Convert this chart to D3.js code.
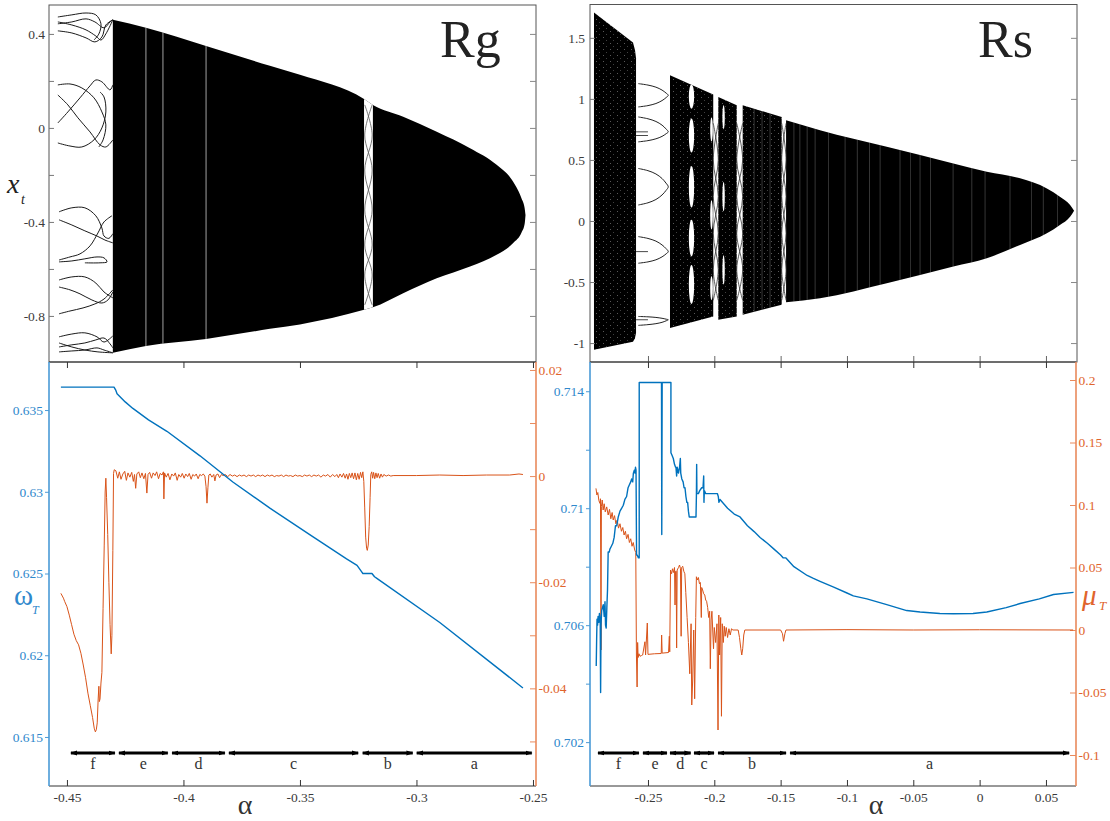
<!DOCTYPE html>
<html lang="en">
<head>
<meta charset="UTF-8">
<title>Rg / Rs bifurcation, frequency and Lyapunov</title>
<script src="https://d3js.org/d3.v7.min.js"></script>
<style>
  body { margin: 0; background: #fff; }
  svg { display: block; }
  svg text { font-family: "Liberation Serif", "Times New Roman", serif; }
</style>
</head>
<body>
<svg id="chart" width="1110" height="821"></svg>
<script>
// ---------- data ----------
// Rg bifurcation: chaotic band envelope (alpha, x_t), upper and lower edge share alpha
const rgTop = [[-0.4303,0.460],[-0.4161,0.426],[-0.3903,0.349],[-0.3629,0.264],[-0.3500,0.226],[-0.3225,0.123],
  [-0.3187,0.098],[-0.3057,0.048],[-0.2913,-0.016],[-0.2770,-0.086],[-0.2656,-0.157],[-0.2585,-0.229],
  [-0.2549,-0.300],[-0.2536,-0.340],[-0.2532,-0.370]];
const rgBottom = [[-0.4303,-0.957],[-0.4161,-0.928],[-0.3903,-0.898],[-0.3629,-0.855],[-0.3500,-0.836],[-0.3225,-0.774],
  [-0.3187,-0.763],[-0.3057,-0.703],[-0.2913,-0.640],[-0.2770,-0.590],[-0.2656,-0.540],[-0.2585,-0.490],
  [-0.2549,-0.445],[-0.2536,-0.410],[-0.2532,-0.370]];
const rgWindows = [[-0.3225,-0.3187]];
const rgWindowLevels = [0.098,-0.030,-0.179,-0.349,-0.498,-0.626,-0.753];
const rgFineLines = [-0.4161,-0.4088,-0.3903];
// periodic branches left of the band
const rgStrands = [
  [[-0.4539,0.472],[-0.4479,0.481],[-0.4418,0.489],[-0.4376,0.481],[-0.4354,0.443],[-0.4363,0.400],[-0.4384,0.374]],
  [[-0.4539,0.451],[-0.4479,0.438],[-0.4418,0.417],[-0.4376,0.391],[-0.4354,0.374],[-0.4333,0.400],[-0.4303,0.460]],
  [[-0.4539,0.443],[-0.4479,0.451],[-0.4418,0.464],[-0.4380,0.451],[-0.4341,0.426],[-0.4315,0.451],[-0.4303,0.460]],
  [[-0.4539,0.413],[-0.4479,0.404],[-0.4418,0.383],[-0.4380,0.366],[-0.4350,0.387],[-0.4333,0.438],[-0.4303,0.460]],
  [[-0.4539,0.183],[-0.4487,0.187],[-0.4436,0.170],[-0.4384,0.128],[-0.4350,0.068],[-0.4333,0.013],[-0.4345,-0.051],[-0.4363,-0.081]],
  [[-0.4539,-0.064],[-0.4487,-0.077],[-0.4436,-0.081],[-0.4384,-0.051],[-0.4350,0.000],[-0.4333,0.068],[-0.4341,0.132],[-0.4358,0.153]],
  [[-0.4539,0.140],[-0.4496,0.098],[-0.4453,0.043],[-0.4401,-0.017],[-0.4358,-0.072],[-0.4333,-0.081],[-0.4303,-0.051]],
  [[-0.4539,0.021],[-0.4496,0.068],[-0.4444,0.128],[-0.4401,0.179],[-0.4376,0.204],[-0.4350,0.196],[-0.4315,0.162],[-0.4303,0.183]],
  [[-0.4534,-0.357],[-0.4479,-0.340],[-0.4423,-0.340],[-0.4376,-0.374],[-0.4350,-0.426],[-0.4341,-0.460],[-0.4320,-0.470],[-0.4303,-0.450]],
  [[-0.4534,-0.391],[-0.4479,-0.413],[-0.4423,-0.438],[-0.4371,-0.460],[-0.4337,-0.477],[-0.4303,-0.489]],
  [[-0.4534,-0.562],[-0.4487,-0.549],[-0.4444,-0.536],[-0.4401,-0.502],[-0.4367,-0.447],[-0.4341,-0.400],[-0.4307,-0.374]],
  [[-0.4534,-0.570],[-0.4479,-0.566],[-0.4423,-0.557],[-0.4371,-0.549],[-0.4341,-0.553],[-0.4328,-0.570],[-0.4358,-0.574],[-0.4423,-0.574]],
  [[-0.4534,-0.647],[-0.4479,-0.634],[-0.4423,-0.634],[-0.4376,-0.660],[-0.4341,-0.698],[-0.4303,-0.723]],
  [[-0.4534,-0.677],[-0.4487,-0.689],[-0.4444,-0.706],[-0.4393,-0.732],[-0.4350,-0.745],[-0.4324,-0.732],[-0.4303,-0.698]],
  [[-0.4534,-0.791],[-0.4487,-0.779],[-0.4431,-0.766],[-0.4380,-0.749],[-0.4341,-0.728],[-0.4303,-0.689]],
  [[-0.4534,-0.889],[-0.4479,-0.877],[-0.4423,-0.872],[-0.4371,-0.889],[-0.4341,-0.911],[-0.4303,-0.885]],
  [[-0.4534,-0.932],[-0.4479,-0.923],[-0.4423,-0.915],[-0.4376,-0.902],[-0.4341,-0.894],[-0.4315,-0.919],[-0.4303,-0.936]],
  [[-0.4534,-0.953],[-0.4479,-0.949],[-0.4423,-0.945],[-0.4371,-0.936],[-0.4341,-0.945],[-0.4303,-0.957]],
  [[-0.4534,-0.915],[-0.4479,-0.932],[-0.4423,-0.945],[-0.4367,-0.953],[-0.4303,-0.957]]
];

// Rs bifurcation: chaotic bands (top edge, bottom edge share alpha)
const rsBandTops = [
  [[-0.2907,1.707],[-0.2613,1.462],[-0.2598,1.400],[-0.2590,1.332]],
  [[-0.2334,1.193],[-0.2008,1.035]],
  [[-0.1970,1.016],[-0.1831,0.948]],
  [[-0.1786,0.948],[-0.1492,0.852]],
  [[-0.1459,0.825],[-0.1203,0.743],[-0.0700,0.607],[-0.0198,0.471],[0.0054,0.403],[0.0305,0.349],[0.0507,0.267],[0.0605,0.199],[0.0682,0.131],[0.0712,0.084]]
];
const rsBandBottoms = [
  [[-0.2907,-1.054],[-0.2613,-0.989],[-0.2598,-0.960],[-0.2590,-0.915]],
  [[-0.2334,-0.877],[-0.2008,-0.782]],
  [[-0.1970,-0.809],[-0.1831,-0.782]],
  [[-0.1786,-0.768],[-0.1492,-0.686]],
  [[-0.1459,-0.665],[-0.1203,-0.632],[-0.0700,-0.509],[-0.0198,-0.373],[0.0054,-0.305],[0.0305,-0.196],[0.0507,-0.101],[0.0605,-0.033],[0.0682,0.035],[0.0712,0.084]]
];
const rsGaps = [[-0.2008,-0.1970],[-0.1831,-0.1786],[-0.1492,-0.1459]];
const rsGapLevels = [0.80,0.50,0.20,-0.10,-0.40,-0.65];
// white openings inside bands: [alpha centre, x centre, alpha half-width, x half-height]
const rsHoles = [[-0.2172,1.02,0.0020,0.10],[-0.2172,0.70,0.0020,0.14],[-0.2172,0.28,0.0020,0.17],
  [-0.2172,-0.14,0.0020,0.15],[-0.2172,-0.52,0.0020,0.16],
  [-0.2021,0.75,0.0010,0.10],[-0.2021,0.05,0.0010,0.12],[-0.2021,-0.55,0.0010,0.10],
  [-0.1930,0.85,0.0009,0.10],[-0.1930,0.20,0.0009,0.12],[-0.1930,-0.40,0.0009,0.12]];
const rsFineLines = [-0.1700,-0.1640,-0.1580,-0.1400,-0.1355,-0.1300,-0.1240,-0.1140,-0.1014,-0.0922,-0.0830,
  -0.0750,-0.0600,-0.0520,-0.0449,-0.0370,-0.0200,-0.0059,0.0041,0.0229,0.0392,0.0480,0.0588];
// periodic window between band 1 and band 2
const rsBumps = [
  [[-0.2573,1.125],[-0.2500,1.113],[-0.2440,1.096],[-0.2394,1.072],[-0.2364,1.048],[-0.2347,1.029],[-0.2364,1.010],[-0.2394,0.986],[-0.2440,0.962],[-0.2500,0.945],[-0.2573,0.934]],
  [[-0.2573,0.852],[-0.2500,0.837],[-0.2440,0.815],[-0.2394,0.785],[-0.2364,0.754],[-0.2347,0.730],[-0.2364,0.714],[-0.2394,0.693],[-0.2440,0.673],[-0.2500,0.658],[-0.2573,0.648]],
  [[-0.2573,0.430],[-0.2500,0.412],[-0.2440,0.385],[-0.2394,0.348],[-0.2364,0.310],[-0.2347,0.280],[-0.2364,0.250],[-0.2394,0.213],[-0.2440,0.176],[-0.2500,0.149],[-0.2573,0.131]],
  [[-0.2573,-0.128],[-0.2500,-0.143],[-0.2440,-0.165],[-0.2394,-0.196],[-0.2364,-0.226],[-0.2347,-0.251],[-0.2364,-0.270],[-0.2394,-0.294],[-0.2440,-0.318],[-0.2500,-0.335],[-0.2573,-0.346]],
  [[-0.2573,-0.782],[-0.2500,-0.785],[-0.2440,-0.790],[-0.2394,-0.797],[-0.2364,-0.804],[-0.2347,-0.809],[-0.2364,-0.818],[-0.2394,-0.830],[-0.2440,-0.841],[-0.2500,-0.849],[-0.2573,-0.855]]
];
const rsBumpFlats = [0.730,0.700,-0.251,-0.809];

// Rg: omega_T (left axis) and mu_T (right axis)
const omegaRg = [[-0.4526,0.6364],[-0.4298,0.6364],[-0.4290,0.6362],[-0.4285,0.6360],[-0.4250,0.6355],[-0.4217,0.6351],
  [-0.4150,0.6344],[-0.4071,0.6337],[-0.3929,0.6322],[-0.3788,0.6306],[-0.3629,0.6290],[-0.3450,0.6273],[-0.3300,0.6259],
  [-0.3255,0.6255],[-0.3235,0.6251],[-0.3230,0.6250],[-0.3191,0.6250],[-0.3180,0.6248],[-0.3170,0.6247],[-0.2900,0.6220],[-0.2543,0.6180]];
const muRg = [[-0.4526,-0.0221],[-0.4520,-0.0226],[-0.4515,-0.0230],[-0.4510,-0.0236],[-0.4500,-0.0246],[-0.4490,-0.0262],
  [-0.4480,-0.0280],[-0.4470,-0.0298],[-0.4460,-0.0310],[-0.4450,-0.0318],[-0.4440,-0.0334],[-0.4430,-0.0356],[-0.4420,-0.0380],
  [-0.4410,-0.0409],[-0.4400,-0.0432],[-0.4390,-0.0455],[-0.4383,-0.0475],[-0.4378,-0.0482],[-0.4374,-0.0478],[-0.4370,-0.0465],
  [-0.4366,-0.0420],[-0.4363,-0.0396],[-0.4361,-0.0425],[-0.4358,-0.0420],[-0.4354,-0.0390],[-0.4350,-0.0370],[-0.4345,-0.0250],
  [-0.4340,-0.0130],[-0.4336,-0.0030],[-0.4333,-0.0004],[-0.4330,-0.0040],[-0.4325,-0.0110],[-0.4320,-0.0200],[-0.4315,-0.0280],
  [-0.4310,-0.0335],[-0.4307,-0.0300],[-0.4303,-0.0140],[-0.4300,0.0005],[-0.4297,0.0012],
  [-0.4290,0.0010],[-0.4282,-0.0004],[-0.4275,0.0008],[-0.4268,-0.0006],[-0.4260,0.0004],[-0.4252,0.0009],[-0.4245,-0.0008],
  [-0.4238,0.0006],[-0.4230,-0.0002],[-0.4222,0.0007],[-0.4215,-0.0010],[-0.4210,0.0003],[-0.4205,-0.0023],[-0.4200,0.0004],
  [-0.4192,0.0008],[-0.4185,-0.0003],[-0.4178,0.0006],[-0.4170,-0.0005],[-0.4163,0.0005],[-0.4157,-0.0032],[-0.4152,0.0003],
  [-0.4145,0.0007],[-0.4137,-0.0004],[-0.4130,0.0006],[-0.4122,0.0001],[-0.4115,0.0008],[-0.4107,-0.0005],[-0.4100,0.0005],
  [-0.4092,0.0002],[-0.4086,0.0008],[-0.4084,-0.0043],[-0.4081,0.0006],[-0.4074,-0.0002],[-0.4066,0.0005],[-0.4058,-0.0007],
  [-0.4050,0.0004],[-0.4042,0.0000],[-0.4035,0.0006],[-0.4027,-0.0008],[-0.4020,0.0003],[-0.4012,-0.0002],[-0.4005,0.0005],
  [-0.3997,-0.0004],[-0.3990,0.0004],[-0.3982,-0.0001],[-0.3975,0.0005],[-0.3967,-0.0006],[-0.3960,0.0003],[-0.3952,0.0000],
  [-0.3945,0.0004],[-0.3937,-0.0005],[-0.3930,0.0003],[-0.3922,0.0001],[-0.3915,0.0004],[-0.3908,0.0000],[-0.3903,-0.0020],
  [-0.3899,-0.0051],[-0.3895,-0.0022],[-0.3891,0.0002],[-0.3885,0.0004],[-0.3878,-0.0002],[-0.3870,0.0003],[-0.3865,-0.0009],
  [-0.3860,0.0002],[-0.3852,0.0004],[-0.3845,-0.0003],[-0.3837,0.0003],[-0.3830,0.0001],[-0.3820,0.0003],[-0.3810,-0.0001],
  [-0.3800,0.0003],[-0.3790,0.0000],[-0.3780,0.0002],[-0.3770,-0.0001],[-0.3760,0.0002],[-0.3750,0.0000],[-0.3740,0.0002],
  [-0.3730,-0.0001],[-0.3720,0.0002],[-0.3710,0.0000],[-0.3700,0.0002],[-0.3690,-0.0001],[-0.3680,0.0002],[-0.3670,0.0000],
  [-0.3660,0.0002],[-0.3650,-0.0001],[-0.3640,0.0002],[-0.3630,0.0000],[-0.3620,0.0002],[-0.3610,-0.0001],[-0.3600,0.0001],
  [-0.3590,0.0000],[-0.3580,0.0002],[-0.3570,-0.0001],[-0.3560,0.0002],[-0.3550,0.0000],[-0.3540,0.0001],[-0.3530,-0.0001],
  [-0.3520,0.0002],[-0.3510,0.0000],[-0.3500,0.0001],[-0.3490,-0.0001],[-0.3480,0.0002],[-0.3470,0.0000],[-0.3460,0.0002],
  [-0.3450,-0.0001],[-0.3440,0.0002],[-0.3430,0.0000],[-0.3420,0.0002],[-0.3410,-0.0002],[-0.3400,0.0002],[-0.3390,0.0000],
  [-0.3380,0.0003],[-0.3370,-0.0002],[-0.3360,0.0003],[-0.3350,-0.0001],[-0.3342,0.0003],[-0.3335,-0.0003],[-0.3328,0.0004],
  [-0.3320,-0.0002],[-0.3313,0.0005],[-0.3306,-0.0004],[-0.3300,0.0004],[-0.3294,-0.0006],[-0.3288,0.0005],[-0.3282,-0.0003],
  [-0.3276,0.0006],[-0.3270,-0.0005],[-0.3264,0.0006],[-0.3258,-0.0007],[-0.3252,0.0005],[-0.3246,-0.0006],[-0.3240,0.0007],
  [-0.3235,-0.0003],[-0.3230,0.0008],[-0.3226,-0.0010],[-0.3222,-0.0060],[-0.3218,-0.0115],[-0.3214,-0.0136],[-0.3211,-0.0140],
  [-0.3207,-0.0130],[-0.3203,-0.0095],[-0.3199,-0.0040],[-0.3196,0.0003],[-0.3192,0.0008],[-0.3188,-0.0004],[-0.3184,0.0007],
  [-0.3179,-0.0005],[-0.3174,0.0006],[-0.3169,-0.0003],[-0.3164,0.0005],[-0.3158,-0.0004],[-0.3152,0.0004],[-0.3146,-0.0002],
  [-0.3140,0.0003],[-0.3130,0.0000],[-0.3120,0.0002],[-0.3110,0.0000],[-0.3100,0.0001],[-0.3000,0.0001],[-0.2900,0.0002],
  [-0.2800,0.0001],[-0.2700,0.0002],[-0.2600,0.0002],[-0.2560,0.0004],[-0.2543,0.0003]];

// Rs: omega_T and mu_T
const omegaRs = [[-0.2890,0.7046],[-0.2887,0.7055],[-0.2884,0.7062],[-0.2880,0.7060],[-0.2876,0.7063],[-0.2870,0.7061],
  [-0.2866,0.7064],[-0.2860,0.7062],[-0.2857,0.7037],[-0.2854,0.7060],[-0.2849,0.7065],[-0.2843,0.7066],[-0.2837,0.7067],
  [-0.2830,0.7063],[-0.2824,0.7068],[-0.2820,0.7060],[-0.2815,0.7059],[-0.2810,0.7066],[-0.2805,0.7072],[-0.2800,0.7085],
  [-0.2792,0.7085],[-0.2787,0.7086],[-0.2776,0.7087],[-0.2765,0.7088],[-0.2755,0.7090],[-0.2745,0.7094],[-0.2736,0.7094],
  [-0.2724,0.7097],[-0.2711,0.7099],[-0.2698,0.7100],[-0.2686,0.7101],[-0.2674,0.7103],[-0.2661,0.7104],[-0.2650,0.7107],
  [-0.2640,0.7108],[-0.2630,0.7109],[-0.2623,0.7110],[-0.2615,0.7109],[-0.2610,0.7112],[-0.2603,0.7113],[-0.2598,0.7112],
  [-0.2594,0.7114],[-0.2590,0.7113],[-0.2586,0.7084],[-0.2581,0.7084],[-0.2572,0.7083],[-0.2566,0.7083],[-0.2566,0.7143],
  [-0.2398,0.7143],[-0.2396,0.7091],[-0.2393,0.7143],[-0.2327,0.7143],[-0.2327,0.7119],[-0.2318,0.7118],[-0.2309,0.7117],
  [-0.2300,0.7115],[-0.2292,0.7114],[-0.2289,0.7114],[-0.2284,0.7111],[-0.2280,0.7114],[-0.2270,0.7112],[-0.2262,0.7114],
  [-0.2256,0.7117],[-0.2253,0.7112],[-0.2245,0.7110],[-0.2235,0.7109],[-0.2228,0.7107],[-0.2221,0.7107],[-0.2214,0.7104],
  [-0.2207,0.7102],[-0.2201,0.7102],[-0.2195,0.7099],[-0.2189,0.7097],[-0.2138,0.7097],[-0.2135,0.7104],[-0.2133,0.7115],
  [-0.2131,0.7105],[-0.2120,0.7105],[-0.2110,0.7106],[-0.2095,0.7107],[-0.2085,0.7107],[-0.2080,0.7111],[-0.2078,0.7102],
  [-0.2075,0.7106],[-0.2065,0.7105],[-0.2057,0.7105],[-0.1977,0.7105],[-0.1970,0.7104],[-0.1965,0.7102],[-0.1957,0.7103],
  [-0.1900,0.7100],[-0.1850,0.7098],[-0.1806,0.7097],[-0.1750,0.7094],[-0.1700,0.7092],[-0.1655,0.7090],[-0.1600,0.7088],
  [-0.1550,0.7086],[-0.1500,0.7084],[-0.1480,0.7083],[-0.1460,0.7083],[-0.1400,0.7080],[-0.1300,0.7077],[-0.1253,0.7076],
  [-0.1203,0.7075],[-0.1100,0.7073],[-0.1000,0.7071],[-0.0952,0.7070],[-0.0850,0.7069],[-0.0700,0.7067],[-0.0550,0.7065],
  [-0.0449,0.70645],[-0.0300,0.7064],[-0.0198,0.70639],[-0.0050,0.7064],[0.0054,0.70645],[0.0200,0.7066],[0.0305,0.70674],
  [0.0450,0.7069],[0.0557,0.70705],[0.0708,0.70712]];
const muRs = [[-0.2892,0.1133],[-0.2885,0.1080],[-0.2878,0.1100],[-0.2870,0.1035],[-0.2862,0.1013],[-0.2858,0.1050],
  [-0.2854,-0.0160],[-0.2851,0.0990],[-0.2845,0.1040],[-0.2838,0.0960],[-0.2830,0.1010],[-0.2822,0.0945],[-0.2811,0.0985],
  [-0.2800,0.0920],[-0.2790,0.0965],[-0.2780,0.0890],[-0.2770,0.0940],[-0.2762,0.0880],[-0.2752,0.0915],[-0.2742,0.0850],
  [-0.2732,0.0880],[-0.2722,0.0815],[-0.2711,0.0850],[-0.2700,0.0790],[-0.2690,0.0820],[-0.2680,0.0760],[-0.2670,0.0790],
  [-0.2661,0.0730],[-0.2650,0.0765],[-0.2640,0.0700],[-0.2630,0.0730],[-0.2620,0.0670],[-0.2611,0.0700],[-0.2600,0.0640],
  [-0.2592,0.0620],[-0.2587,-0.0200],[-0.2582,-0.0456],[-0.2578,-0.0100],[-0.2574,-0.0220],[-0.2568,-0.0190],[-0.2560,-0.0210],
  [-0.2550,-0.0205],[-0.2540,-0.0200],[-0.2523,-0.0094],[-0.2518,-0.0200],[-0.2505,0.0056],[-0.2500,-0.0195],[-0.2450,-0.0190],
  [-0.2400,-0.0188],[-0.2397,-0.0040],[-0.2393,-0.0185],[-0.2345,-0.0180],[-0.2339,-0.0050],[-0.2336,-0.0175],
  [-0.2330,0.0480],[-0.2322,0.0450],[-0.2315,0.0490],[-0.2308,0.0460],[-0.2300,0.0500],[-0.2296,0.0200],[-0.2292,0.0470],
  [-0.2287,0.0470],[-0.2284,-0.0144],[-0.2280,0.0480],[-0.2270,0.0500],[-0.2262,0.0520],[-0.2255,0.0490],[-0.2250,-0.0050],
  [-0.2246,0.0500],[-0.2238,0.0510],[-0.2230,0.0470],[-0.2222,0.0450],[-0.2215,0.0300],[-0.2205,0.0100],[-0.2195,-0.0100],
  [-0.2185,-0.0350],[-0.2175,0.0050],[-0.2170,-0.0600],[-0.2163,-0.0400],[-0.2155,0.0000],[-0.2148,-0.0550],[-0.2140,0.0100],
  [-0.2135,0.0426],[-0.2128,0.0400],[-0.2120,0.0420],[-0.2112,0.0370],[-0.2105,0.0380],[-0.2098,0.0100],[-0.2095,0.0340],
  [-0.2088,0.0320],[-0.2080,0.0290],[-0.2072,0.0280],[-0.2065,0.0240],[-0.2058,0.0230],[-0.2050,0.0180],[-0.2042,0.0100],
  [-0.2035,0.0150],[-0.2030,-0.0310],[-0.2024,0.0080],[-0.2018,0.0150],[-0.2012,0.0000],[-0.2006,-0.0150],[-0.2000,0.0020],
  [-0.1990,-0.0100],[-0.1980,0.0050],[-0.1972,-0.0800],[-0.1966,0.0120],[-0.1960,-0.0200],[-0.1952,0.0100],[-0.1946,-0.0690],
  [-0.1940,0.0050],[-0.1932,-0.0100],[-0.1925,0.0030],[-0.1918,-0.0050],[-0.1910,0.0020],[-0.1900,-0.0060],[-0.1890,0.0010],
  [-0.1880,-0.0040],[-0.1870,0.0010],[-0.1860,0.0000],[-0.1820,0.0000],[-0.1810,-0.0060],[-0.1800,-0.0150],[-0.1793,-0.0200],
  [-0.1786,-0.0150],[-0.1778,-0.0040],[-0.1770,0.0000],[-0.1500,0.0000],[-0.1486,-0.0030],[-0.1478,-0.0090],[-0.1468,-0.0030],
  [-0.1460,0.0000],[-0.1000,0.0003],[-0.0500,0.0000],[0.0000,0.0002],[0.0705,0.0000]];

// dynamical regimes a..f along alpha
const segLetters = ["f","e","d","c","b","a"];
const segRg = [[-0.4483,-0.4294],[-0.4277,-0.4067],[-0.4049,-0.3822],[-0.3805,-0.3250],[-0.3231,-0.3016],[-0.2999,-0.2505]];
const segRs = [[-0.2877,-0.2568],[-0.2538,-0.2357],[-0.2334,-0.2178],[-0.2153,-0.2002],[-0.1972,-0.1459],[-0.1429,0.0675]];

// tick values
const xTicksRg = [-0.45,-0.4,-0.35,-0.3,-0.25];
const xTicksRs = [-0.25,-0.2,-0.15,-0.1,-0.05,0,0.05];
const yTicksRgTop = [-0.8,-0.6,-0.4,-0.2,0,0.2,0.4];
const yLabelsRgTop = [-0.8,-0.4,0,0.4];
const yTicksRsTop = [-1,-0.5,0,0.5,1,1.5];
const omegaTicksRg = [0.615,0.62,0.625,0.63,0.635];
const muTicksRg = [-0.05,-0.04,-0.03,-0.02,-0.01,0,0.01,0.02];
const muLabelsRg = [-0.04,-0.02,0,0.02];
const omegaTicksRs = [0.702,0.704,0.706,0.708,0.71,0.712,0.714];
const omegaLabelsRs = [0.702,0.706,0.71,0.714];
const muTicksRs = [-0.1,-0.05,0,0.05,0.1,0.15,0.2];

// ---------- layout ----------
const TL = {l:49, r:536, t:5, b:362};
const TR = {l:590, r:1077, t:4.5, b:362};
const BL = {l:49, r:536, t:362, b:786};
const BR = {l:590, r:1076, t:362, b:786};
const BLUE = "#0072BD", ORANGE = "#D95319";
const BLUE_AX = "#4a9ad6", ORANGE_AX = "#e98a5c";
const BLUE_TX = "#2f88cc", ORANGE_TX = "#e0642c";
const SERIF = "'Liberation Serif', 'Times New Roman', serif";

const xL = d3.scaleLinear().domain([-0.4577,-0.2487]).range([TL.l,TL.r]);
const xR = d3.scaleLinear().domain([-0.2937,0.0734]).range([TR.l,TR.r]);
const yTL = d3.scaleLinear().domain([-0.996,0.523]).range([TL.b,TL.t]);
const yTR = d3.scaleLinear().domain([-1.155,1.773]).range([TR.b,TR.t]);
const yBLw = d3.scaleLinear().domain([0.6120,0.63794]).range([BL.b,BL.t]);
const yBLm = d3.scaleLinear().domain([-0.0584,0.0215]).range([BL.b,BL.t]);
const yBRw = d3.scaleLinear().domain([0.7005,0.7150]).range([BR.b,BR.t]);
const yBRm = d3.scaleLinear().domain([-0.1248,0.2144]).range([BR.b,BR.t]);

const svg = d3.select("#chart");
const defs = svg.append("defs");

// grainy fill for the scattered chaotic bands of Rs
const pat = defs.append("pattern").attr("id","speck").attr("width",7).attr("height",6)
  .attr("patternUnits","userSpaceOnUse");
pat.append("rect").attr("width",7).attr("height",6).attr("fill","#000");
pat.append("rect").attr("x",1).attr("y",1).attr("width",1).attr("height",1).attr("fill","#fff").attr("opacity",0.35);
pat.append("rect").attr("x",4).attr("y",4).attr("width",1).attr("height",1).attr("fill","#fff").attr("opacity",0.25);

defs.append("marker").attr("id","tip").attr("viewBox","0 0 10 10").attr("refX",9).attr("refY",5)
  .attr("markerUnits","userSpaceOnUse").attr("markerWidth",7).attr("markerHeight",7)
  .attr("orient","auto-start-reverse")
  .append("path").attr("d","M0,1.5L10,5L0,8.5Z").attr("fill","#000");

function styleAxis(g, color, textColor) {
  g.attr("font-size", 13.5).style("font-family", SERIF);
  g.select(".domain").remove();
  g.selectAll(".tick line").attr("stroke", color);
  g.selectAll(".tick text").attr("fill", textColor).style("font-family", SERIF);
}

// smooth band from an upper and a lower edge sharing the same alpha values
function bandPath(x, y, top, bottom, curve) {
  const rows = top.map((t,i) => ({a: t[0], hi: t[1], lo: bottom[i][1]}));
  return d3.area().x(d => x(d.a)).y0(d => y(d.lo)).y1(d => y(d.hi)).curve(curve)(rows);
}

// ---------- top left: Rg ----------
const strandTL = d3.line().x(d => xL(d[0])).y(d => yTL(d[1])).curve(d3.curveCatmullRom.alpha(0.5));
const rgPoly = bandPath(xL, yTL, rgTop, rgBottom, d3.curveMonotoneX);
defs.append("clipPath").attr("id","clipRg").append("path").attr("d", rgPoly);

svg.append("path").attr("d", rgPoly).attr("fill","#000");
const rgIn = svg.append("g").attr("clip-path","url(#clipRg)");
rgIn.selectAll("line").data(rgFineLines).join("line")
  .attr("x1", d => xL(d)).attr("x2", d => xL(d)).attr("y1", TL.t).attr("y2", TL.b)
  .attr("stroke","#fff").attr("stroke-width",0.9).attr("opacity",0.7);
rgIn.selectAll("rect").data(rgWindows).join("rect")
  .attr("x", d => xL(d[0])).attr("width", d => xL(d[1]) - xL(d[0]))
  .attr("y", TL.t).attr("height", TL.b - TL.t).attr("fill","#fff");
rgWindows.forEach(w => {
  [0,1].forEach(k => {
    const pts = rgWindowLevels.map((v,i) => [w[(i + k) % 2] + (((i + k) % 2) ? -0.0003 : 0.0003), v]);
    svg.append("path").attr("d", strandTL(pts)).attr("fill","none").attr("stroke","#555").attr("stroke-width",0.8);
  });
});
svg.append("g").selectAll("path").data(rgStrands).join("path")
  .attr("d", strandTL).attr("fill","none").attr("stroke","#1a1a1a").attr("stroke-width",1);

// ---------- top right: Rs ----------
const strandTR = d3.line().x(d => xR(d[0])).y(d => yTR(d[1])).curve(d3.curveCatmullRom.alpha(0.5));
const rsPolys = rsBandTops.map((t,i) => bandPath(xR, yTR, t, rsBandBottoms[i], i === 4 ? d3.curveMonotoneX : d3.curveLinear));
const clipRs = defs.append("clipPath").attr("id","clipRs");
rsPolys.forEach(p => clipRs.append("path").attr("d", p));

svg.append("g").selectAll("path").data(rsPolys).join("path")
  .attr("d", d => d).attr("fill", (d,i) => i < 4 ? "url(#speck)" : "#000");
const rsIn = svg.append("g").attr("clip-path","url(#clipRs)");
rsIn.selectAll("ellipse").data(rsHoles).join("ellipse")
  .attr("cx", d => xR(d[0])).attr("cy", d => yTR(d[1]))
  .attr("rx", d => xR(d[0] + d[2]) - xR(d[0])).attr("ry", d => yTR(d[1] - d[3]) - yTR(d[1]))
  .attr("fill","#fff");
rsIn.selectAll("line").data(rsFineLines).join("line")
  .attr("x1", d => xR(d)).attr("x2", d => xR(d)).attr("y1", TR.t).attr("y2", TR.b)
  .attr("stroke","#fff").attr("stroke-width",0.7).attr("opacity",0.3);
rsGaps.forEach(w => {
  [0,1].forEach(k => {
    const pts = rsGapLevels.map((v,i) => [w[(i + k) % 2], v]);
    svg.append("path").attr("d", strandTR(pts)).attr("fill","none").attr("stroke","#333").attr("stroke-width",0.8);
  });
});
svg.append("g").selectAll("path").data(rsBumps).join("path")
  .attr("d", strandTR).attr("fill","none").attr("stroke","#222").attr("stroke-width",1);
svg.append("g").selectAll("line").data(rsBumpFlats).join("line")
  .attr("x1", xR(-0.2590)).attr("x2", xR(-0.2500)).attr("y1", d => yTR(d)).attr("y2", d => yTR(d))
  .attr("stroke","#333").attr("stroke-width",0.9);

// ---------- frames and axes of the top panels ----------
[TL, TR].forEach(P => {
  svg.append("rect").attr("x",P.l).attr("y",P.t).attr("width",P.r-P.l).attr("height",P.b-P.t)
    .attr("fill","none").attr("stroke","#555").attr("stroke-width",1);
});
const axTLl = svg.append("g").attr("transform",`translate(${TL.l},0)`)
  .call(d3.axisLeft(yTL).tickValues(yTicksRgTop).tickSize(-5).tickPadding(4)
    .tickFormat(d => yLabelsRgTop.includes(d) ? String(d) : ""));
styleAxis(axTLl, "#777", "#3c3c3c");
const axTLr = svg.append("g").attr("transform",`translate(${TL.r},0)`)
  .call(d3.axisRight(yTL).tickValues(yTicksRgTop).tickSize(-6).tickFormat(""));
styleAxis(axTLr, "#888", "#3c3c3c");
const axTRl = svg.append("g").attr("transform",`translate(${TR.l},0)`)
  .call(d3.axisLeft(yTR).tickValues(yTicksRsTop).tickSize(-5).tickPadding(5).tickFormat(d => String(d)));
styleAxis(axTRl, "#777", "#3c3c3c");
const axTRr = svg.append("g").attr("transform",`translate(${TR.r},0)`)
  .call(d3.axisRight(yTR).tickValues(yTicksRsTop).tickSize(-6).tickFormat(""));
styleAxis(axTRr, "#888", "#3c3c3c");
const axTRb = svg.append("g").attr("transform",`translate(0,${TR.b})`)
  .call(d3.axisBottom(xR).tickValues(xTicksRs).tickSize(-6).tickFormat(""));
styleAxis(axTRb, "#666", "#3c3c3c");

// Rg / Rs titles and x_t label
svg.append("text").attr("x",440).attr("y",57).attr("font-size",52).attr("fill","#222").text("Rg");
svg.append("text").attr("x",978).attr("y",57).attr("font-size",52).attr("fill","#222").text("Rs");
svg.append("text").attr("x",7).attr("y",193).attr("font-size",28).attr("font-style","italic").attr("fill","#222").text("x");
svg.append("text").attr("x",21).attr("y",204).attr("font-size",14).attr("font-style","italic").attr("fill","#222").text("t");

// ---------- bottom panels ----------
function bottomPanel(P, x, yw, ym, omega, mu, seg, xTicks, wTicks, wLabels, mTicks, mLabels) {
  const lineW = d3.line().x(d => x(d[0])).y(d => yw(d[1]));
  const lineM = d3.line().x(d => x(d[0])).y(d => ym(d[1]));

  // frame: dark top/bottom, coloured sides
  svg.append("line").attr("x1",P.l).attr("x2",P.r).attr("y1",P.t).attr("y2",P.t).attr("stroke","#333").attr("stroke-width",1);
  svg.append("line").attr("x1",P.l).attr("x2",P.r).attr("y1",P.b).attr("y2",P.b).attr("stroke","#333").attr("stroke-width",1);
  svg.append("line").attr("x1",P.l).attr("x2",P.l).attr("y1",P.t).attr("y2",P.b).attr("stroke",BLUE_AX).attr("stroke-width",1.6);
  svg.append("line").attr("x1",P.r).attr("x2",P.r).attr("y1",P.t).attr("y2",P.b).attr("stroke",ORANGE_AX).attr("stroke-width",1.6);

  const axB = svg.append("g").attr("transform",`translate(0,${P.b})`)
    .call(d3.axisBottom(x).tickValues(xTicks).tickSize(-6).tickPadding(6).tickFormat(d => String(d)));
  styleAxis(axB, "#333", "#3a3a3a");
  const axT = svg.append("g").attr("transform",`translate(0,${P.t})`)
    .call(d3.axisTop(x).tickValues(xTicks).tickSize(-6).tickFormat(""));
  styleAxis(axT, "#333", "#3a3a3a");
  const axL = svg.append("g").attr("transform",`translate(${P.l},0)`)
    .call(d3.axisLeft(yw).tickValues(wTicks).tickSize(4).tickPadding(2)
      .tickFormat(d => wLabels.includes(d) ? String(d) : ""));
  styleAxis(axL, BLUE_AX, BLUE_TX);
  const axR = svg.append("g").attr("transform",`translate(${P.r},0)`)
    .call(d3.axisRight(ym).tickValues(mTicks).tickSize(-6).tickPadding(2.5)
      .tickFormat(d => mLabels.includes(d) ? String(d) : ""));
  styleAxis(axR, ORANGE_AX, ORANGE_TX);

  svg.append("path").attr("d", lineM(mu)).attr("fill","none").attr("stroke",ORANGE)
    .attr("stroke-width",1).attr("stroke-linejoin","round");
  svg.append("path").attr("d", lineW(omega)).attr("fill","none").attr("stroke",BLUE)
    .attr("stroke-width",1.4).attr("stroke-linejoin","round");

  // regime arrows
  const yArrow = P.b - 33;
  svg.append("g").selectAll("line").data(seg).join("line")
    .attr("x1", d => x(d[0])).attr("x2", d => x(d[1])).attr("y1", yArrow).attr("y2", yArrow)
    .attr("stroke","#000").attr("stroke-width",3.2)
    .attr("marker-start","url(#tip)").attr("marker-end","url(#tip)");
  svg.append("g").selectAll("text").data(seg).join("text")
    .attr("x", d => x((d[0] + d[1]) / 2)).attr("y", yArrow + 16)
    .attr("text-anchor","middle").attr("font-size",16).attr("fill","#333")
    .text((d,i) => segLetters[i]);
}

bottomPanel(BL, xL, yBLw, yBLm, omegaRg, muRg, segRg, xTicksRg, omegaTicksRg, omegaTicksRg, muTicksRg, muLabelsRg);
bottomPanel(BR, xR, yBRw, yBRm, omegaRs, muRs, segRs, xTicksRs, omegaTicksRs, omegaLabelsRs, muTicksRs, muTicksRs);

// axis titles
svg.append("text").attr("x",14).attr("y",605).attr("font-size",29).attr("fill",BLUE_TX).text("\u03C9");
svg.append("text").attr("x",32).attr("y",614).attr("font-size",12).attr("font-style","italic").attr("fill",BLUE_TX).text("T");
svg.append("text").attr("x",1082).attr("y",605).attr("font-size",29).attr("font-style","italic").attr("fill",ORANGE_TX).text("\u03BC");
svg.append("text").attr("x",1099).attr("y",610).attr("font-size",13).attr("font-style","italic").attr("fill",ORANGE_TX).text("T");
svg.append("text").attr("x",245).attr("y",814).attr("text-anchor","middle").attr("font-size",28).attr("fill","#333").text("\u03B1");
svg.append("text").attr("x",876).attr("y",814).attr("text-anchor","middle").attr("font-size",28).attr("fill","#333").text("\u03B1");
</script>
</body>
</html>
